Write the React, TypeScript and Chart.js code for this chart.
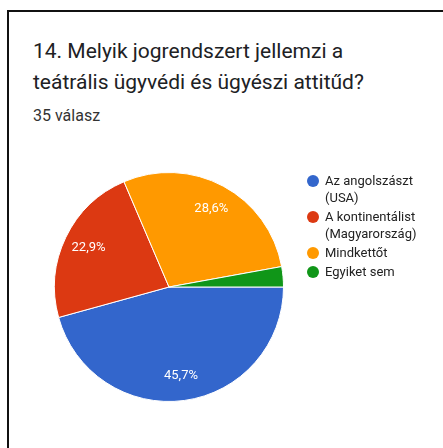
import React, { useEffect, useRef } from "react";
import { Chart, registerables } from "chart.js";

Chart.register(...registerables);

const titleLines = ["14. Melyik jogrendszert jellemzi a", "teátrális ügyvédi és ügyészi attitűd?"];
const subtitle = "35 válasz";
const categories = ["Az angolszászt (USA)", "A kontinentálist (Magyarország)", "Mindkettőt", "Egyiket sem"];
const legendLines = [["Az angolszászt", "(USA)"], ["A kontinentálist", "(Magyarország)"], ["Mindkettőt"], ["Egyiket sem"]];
const counts = [16, 8, 10, 1];
const percentLabels = ["45,7%", "22,9%", "28,6%", ""];
const colors = ["#3366cc", "#dc3912", "#ff9900", "#109618"];

const sliceLabels = {
  id: "sliceLabels",
  afterDatasetsDraw(chart: any) {
    const ctx = chart.ctx;
    const meta = chart.getDatasetMeta(0);
    ctx.save();
    ctx.font = "13px Roboto";
    ctx.fillStyle = "#ffffff";
    ctx.textAlign = "center";
    ctx.textBaseline = "middle";
    meta.data.forEach((arc: any, i: number) => {
      const t = percentLabels[i];
      if (!t) return;
      const p = arc.getProps(["x", "y", "startAngle", "endAngle", "outerRadius"], true);
      const mid = (p.startAngle + p.endAngle) / 2;
      const r = p.outerRadius * 0.78;
      ctx.fillText(t, p.x + Math.cos(mid) * r, p.y + Math.sin(mid) * r);
    });
    ctx.restore();
  },
};

export default function App() {
  const ref = useRef<HTMLCanvasElement>(null);
  useEffect(() => {
    if (!ref.current) return;
    const chart = new Chart(ref.current, {
      type: "pie",
      data: {
        labels: categories,
        datasets: [
          {
            data: counts,
            backgroundColor: colors,
            borderColor: "#ffffff",
            borderWidth: 1,
          },
        ],
      },
      options: {
        responsive: false,
        animation: false,
        devicePixelRatio: 1,
        rotation: 90,
        layout: { padding: { left: 54, top: 172, right: 159, bottom: 46 } },
        plugins: { legend: { display: false }, tooltip: { enabled: false } },
      },
      plugins: [sliceLabels],
    });
    return () => chart.destroy();
  }, []);

  return (
    <div
      style={{
        position: "absolute",
        left: 0,
        top: 0,
        width: 443,
        height: 448,
        overflow: "hidden",
        background: "#ffffff",
        fontFamily: "Roboto, sans-serif",
      }}
    >
      <div
        style={{
          position: "absolute",
          left: 7,
          top: 10,
          width: 520,
          height: 520,
          border: "2px solid #111",
          boxSizing: "border-box",
        }}
      />
      <div
        style={{
          position: "absolute",
          left: 33,
          top: 36,
          fontSize: 21,
          lineHeight: "31px",
          color: "#202124",
          whiteSpace: "nowrap",
        }}
      >
        {titleLines.map((l, i) => (
          <div key={i}>{l}</div>
        ))}
      </div>
      <div
        style={{
          position: "absolute",
          left: 33,
          top: 106,
          fontSize: 16,
          lineHeight: "20px",
          color: "#333",
        }}
      >
        {subtitle}
      </div>
      <canvas ref={ref} width={443} height={448} style={{ position: "absolute", left: 0, top: 0 }} />
      <div style={{ position: "absolute", left: 307, top: 172 }}>
        {legendLines.map((lines, i) => (
          <div key={i} style={{ display: "flex", alignItems: "flex-start", marginBottom: 2 }}>
            <div
              style={{
                width: 12,
                height: 12,
                borderRadius: 6,
                background: colors[i],
                marginTop: 2.5,
                flex: "none",
              }}
            />
            <div style={{ marginLeft: 6, fontSize: 13, lineHeight: "17px", color: "#222" }}>
              {lines.map((l, j) => (
                <div key={j}>{l}</div>
              ))}
            </div>
          </div>
        ))}
      </div>
    </div>
  );
}
